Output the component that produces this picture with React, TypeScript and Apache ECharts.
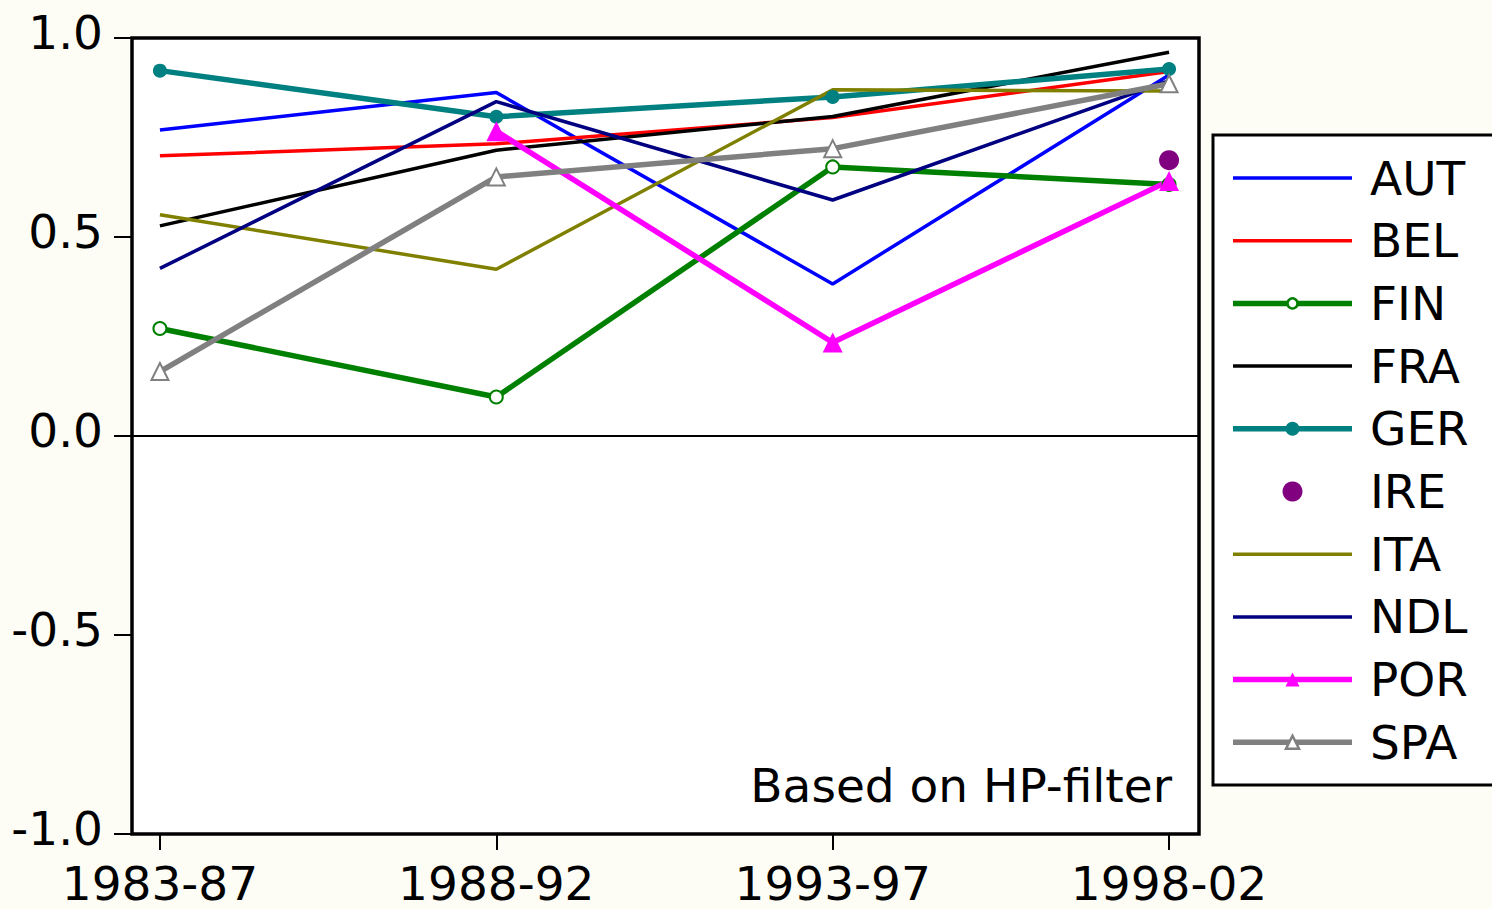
import React, { useEffect, useRef } from "react";
import * as echarts from "echarts";

// Sub-periods on the horizontal axis
const periods = ["1983-87", "1988-92", "1993-97", "1998-02"];

// Correlation coefficients per country and sub-period
const AUT = [0.769, 0.863, 0.382, 0.907];
const BEL = [0.704, 0.734, 0.8, 0.916];
const FIN = [0.27, 0.098, 0.676, 0.632];
const FRA = [0.528, 0.718, 0.803, 0.964];
const GER = [0.918, 0.802, 0.852, 0.922];
const IRE = [null, null, null, 0.693];
const ITA = [0.556, 0.419, 0.87, 0.867];
const NDL = [0.421, 0.84, 0.593, 0.893];
const POR = [null, 0.766, 0.235, 0.641];
const SPA = [0.162, 0.651, 0.722, 0.885];

const yTicks = [-1, -0.5, 0, 0.5, 1];
const note = "Based on HP-filter";

const FONT = "'DejaVu Sans', 'Liberation Sans', Arial, sans-serif";
const FONT_SIZE = 47;
const THIN = 3.5;
const THICK = 5.5;

type Spec = {
  name: string;
  values: (number | null)[];
  color: string;
  width: number; // 0 = markers only
  marker: "none" | "circle" | "emptyCircle" | "triangle" | "emptyTriangle";
  size: number;
};

const specs: Spec[] = [
  { name: "AUT", values: AUT, color: "#0000FF", width: THIN, marker: "none", size: 0 },
  { name: "BEL", values: BEL, color: "#FF0000", width: THIN, marker: "none", size: 0 },
  { name: "FIN", values: FIN, color: "#008000", width: THICK, marker: "emptyCircle", size: 13 },
  { name: "FRA", values: FRA, color: "#000000", width: THIN, marker: "none", size: 0 },
  { name: "GER", values: GER, color: "#008080", width: THICK, marker: "circle", size: 14 },
  { name: "IRE", values: IRE, color: "#800080", width: 0, marker: "circle", size: 20 },
  { name: "ITA", values: ITA, color: "#808000", width: THIN, marker: "none", size: 0 },
  { name: "NDL", values: NDL, color: "#000080", width: THIN, marker: "none", size: 0 },
  { name: "POR", values: POR, color: "#FF00FF", width: THICK, marker: "triangle", size: 20 },
  { name: "SPA", values: SPA, color: "#808080", width: THICK, marker: "emptyTriangle", size: 17 },
];

const toPairs = (vals: (number | null)[]) =>
  vals.map((v, i) => [i, v]).filter((p) => p[1] !== null);

// Legend layout
const LEG_X = 1213;
const LEG_Y = 135;
const LEG_H = 650;
const LEG_ROW0 = 178;
const LEG_STEP = 62.7;
const LEG_LINE_X0 = 1233;
const LEG_LINE_X1 = 1352;
const LEG_TEXT_X = 1370;

function legendMarker(s: Spec, cx: number, cy: number): any[] {
  const stroke = s.color;
  switch (s.marker) {
    case "circle":
      return [{ type: "circle", shape: { cx, cy, r: s.size / 2 }, style: { fill: stroke } }];
    case "emptyCircle":
      return [
        {
          type: "circle",
          shape: { cx, cy, r: 5 },
          style: { fill: "#fff", stroke, lineWidth: 2.5 },
        },
      ];
    case "triangle": {
      const h = 14;
      return [
        {
          type: "polygon",
          shape: { points: [[cx, cy - h / 2], [cx + h / 2, cy + h / 2], [cx - h / 2, cy + h / 2]] },
          style: { fill: stroke },
        },
      ];
    }
    case "emptyTriangle": {
      const h = 13;
      return [
        {
          type: "polygon",
          shape: { points: [[cx, cy - h / 2], [cx + h / 2, cy + h / 2], [cx - h / 2, cy + h / 2]] },
          style: { fill: "#fff", stroke, lineWidth: 2.5 },
        },
      ];
    }
    default:
      return [];
  }
}

export default function App() {
  const ref = useRef<HTMLDivElement>(null);

  useEffect(() => {
    if (!ref.current) return;
    const chart = echarts.init(ref.current, null, { renderer: "svg" });

    const series: any[] = specs.map((s, idx) => {
      if (s.width === 0) {
        return {
          name: s.name,
          type: "scatter",
          data: toPairs(s.values),
          symbol: s.marker,
          symbolSize: s.size,
          itemStyle: { color: s.color, opacity: 1 },
          z: 3,
        };
      }
      const base: any = {
        name: s.name,
        type: "line",
        data: toPairs(s.values),
        symbol: s.marker,
        symbolSize: s.size,
        showSymbol: s.marker !== "none",
        lineStyle: { color: s.color, width: s.width },
        itemStyle: {
          color: s.color,
          borderColor: s.color,
          borderWidth: s.marker.startsWith("empty") ? 3 : 0,
        },
        z: 3,
      };
      if (idx === 0) {
        base.markLine = {
          silent: true,
          symbol: ["none", "none"],
          label: { show: false },
          lineStyle: { color: "#000", width: 1.8, type: "solid" },
          data: [{ yAxis: 0 }],
        };
      }
      return base;
    });

    // Legend drawn as a boxed list, one row per series
    const legendItems: any[] = [
      {
        type: "rect",
        shape: { x: LEG_X, y: LEG_Y, width: 320, height: LEG_H },
        style: { fill: "#fff", stroke: "#000", lineWidth: 3 },
      },
    ];
    specs.forEach((s, i) => {
      const cy = LEG_ROW0 + i * LEG_STEP;
      if (s.width > 0) {
        legendItems.push({
          type: "line",
          shape: { x1: LEG_LINE_X0, y1: cy, x2: LEG_LINE_X1, y2: cy },
          style: { stroke: s.color, lineWidth: s.width },
        });
      }
      legendItems.push(...legendMarker(s, (LEG_LINE_X0 + LEG_LINE_X1) / 2, cy));
      legendItems.push({
        type: "text",
        x: LEG_TEXT_X,
        y: cy,
        style: {
          text: s.name,
          fontSize: FONT_SIZE,
          fontFamily: FONT,
          fill: "#000",
          textAlign: "left",
          textVerticalAlign: "middle",
        },
      });
    });

    chart.setOption({
      animation: false,
      backgroundColor: "#FDFDF6",
      textStyle: { fontFamily: FONT },
      grid: {
        left: 132,
        top: 38,
        width: 1067,
        height: 796,
        show: true,
        backgroundColor: "#FFFFFF",
        borderColor: "#000",
        borderWidth: 3.5,
      },
      xAxis: {
        type: "value",
        min: -0.083,
        max: 3.089,
        axisLine: { show: false, onZero: false },
        splitLine: { show: false },
        axisTick: {
          show: true,
          length: 16,
          lineStyle: { color: "#000", width: 2 },
          customValues: [0, 1, 2, 3],
        },
        axisLabel: {
          customValues: [0, 1, 2, 3],
          formatter: (v: number) => periods[Math.round(v)] ?? "",
          fontSize: FONT_SIZE,
          fontFamily: FONT,
          color: "#000",
          margin: 28,
          lineHeight: 42,
        },
      },
      yAxis: {
        type: "value",
        min: -1,
        max: 1,
        interval: 0.5,
        axisLine: { show: false, onZero: false },
        splitLine: { show: false },
        axisTick: {
          show: true,
          length: 18,
          lineStyle: { color: "#000", width: 2 },
          customValues: yTicks,
        },
        axisLabel: {
          customValues: yTicks,
          formatter: (v: number) => v.toFixed(1),
          fontSize: FONT_SIZE,
          fontFamily: FONT,
          color: "#000",
          margin: 29,
          verticalAlign: "bottom",
          lineHeight: 12,
        },
      },
      graphic: [
        ...legendItems,
        {
          type: "text",
          x: 1172,
          y: 785,
          z: 10,
          style: {
            text: note,
            fontSize: FONT_SIZE,
            fontFamily: FONT,
            fill: "#000",
            textAlign: "right",
            textVerticalAlign: "middle",
          },
        },
      ],
      series,
    });

    return () => chart.dispose();
  }, []);

  return (
    <div
      style={{
        position: "absolute",
        left: 0,
        top: 0,
        width: 1492,
        height: 909,
        overflow: "hidden",
      }}
    >
      <div ref={ref} style={{ width: 1540, height: 909 }} />
    </div>
  );
}
